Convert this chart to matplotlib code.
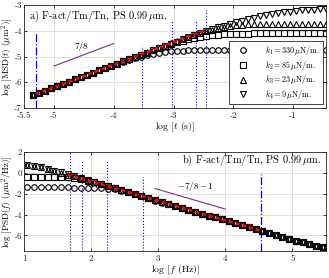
import matplotlib
matplotlib.use("Agg")
import matplotlib.pyplot as plt

plt.rcParams["font.family"] = "serif"
plt.rcParams["font.serif"] = ["cmr10"]
plt.rcParams["mathtext.fontset"] = "cm"
plt.rcParams["axes.formatter.use_mathtext"] = True
plt.rcParams["axes.unicode_minus"] = False

#%% data

# a) MSD, log t (s) vs log MSD (um^2)
log_t = [-5.35, -5.25, -5.15, -5.05, -4.95, -4.85, -4.75, -4.65, -4.55, -4.45,
         -4.35, -4.25, -4.15, -4.05, -3.95, -3.85, -3.75, -3.65, -3.55, -3.45,
         -3.35, -3.25, -3.15, -3.05, -2.95, -2.85, -2.75, -2.65, -2.55, -2.45,
         -2.35, -2.25, -2.15, -2.05, -1.95, -1.85, -1.75, -1.65, -1.55, -1.45,
         -1.35, -1.25, -1.15, -1.05, -0.95, -0.85, -0.75, -0.65, -0.55, -0.45]
msd_early = [-6.50, -6.41, -6.33, -6.24, -6.15, -6.06, -5.98, -5.89, -5.80, -5.71]
msd_k1 = msd_early + [
    -5.63, -5.54, -5.46, -5.37, -5.29, -5.21, -5.14, -5.07, -5.00, -4.94,
    -4.90, -4.86, -4.82, -4.80, -4.78, -4.77, -4.76, -4.75, -4.75, -4.745,
    -4.745, -4.745, -4.74, -4.74, -4.74, -4.74, -4.74, -4.74, -4.74, -4.74,
    -4.74, -4.74, -4.74, -4.74, -4.74, -4.74, -4.74, -4.74, -4.74, -4.74]
msd_k2 = msd_early + [
    -5.63, -5.54, -5.45, -5.36, -5.28, -5.19, -5.10, -5.015, -4.93, -4.845,
    -4.76, -4.68, -4.60, -4.52, -4.45, -4.38, -4.32, -4.27, -4.23, -4.19,
    -4.17, -4.15, -4.13, -4.12, -4.115, -4.11, -4.107, -4.10, -4.10, -4.10,
    -4.10, -4.10, -4.10, -4.10, -4.10, -4.10, -4.10, -4.10, -4.10, -4.10]
msd_k3 = msd_early + [
    -5.63, -5.54, -5.45, -5.36, -5.28, -5.19, -5.10, -5.01, -4.93, -4.84,
    -4.75, -4.665, -4.58, -4.49, -4.41, -4.33, -4.245, -4.17, -4.09, -4.02,
    -3.96, -3.91, -3.86, -3.82, -3.795, -3.77, -3.757, -3.745, -3.737, -3.73,
    -3.728, -3.725, -3.72, -3.72, -3.72, -3.72, -3.72, -3.72, -3.72, -3.72]
msd_k4 = msd_early + [
    -5.63, -5.54, -5.45, -5.37, -5.28, -5.19, -5.104, -5.018, -4.931, -4.845,
    -4.760, -4.674, -4.589, -4.505, -4.421, -4.338, -4.256, -4.176, -4.096, -4.018,
    -3.942, -3.869, -3.797, -3.729, -3.664, -3.602, -3.544, -3.490, -3.440, -3.395,
    -3.354, -3.317, -3.285, -3.257, -3.232, -3.210, -3.192, -3.177, -3.164, -3.153]

msd_fit_t = [-5.3, -2.45]
msd_fit_y = [-6.46, -3.96]
slope_a_t = [-5.0, -4.0]
slope_a_y = [-5.37, -4.495]

# vertical markers, top panel: x, ymax
a_dashdot = [(-5.3, -4.1)]
a_dotted = [(-3.53, -4.6), (-3.02, -3.6), (-2.63, -3.6), (-2.45, -3.2)]

labels_k = [r"$k_1 = 330\,\mu$N/m.", r"$k_2 = 85\,\mu$N/m.",
            r"$k_3 = 23\,\mu$N/m.", r"$k_4 = 9\,\mu$N/m."]
markers_k = ["o", "s", "^", "v"]

# b) PSD, log f (Hz) vs log PSD (um^2/Hz)
log_f = [1.05, 1.15, 1.25, 1.35, 1.45, 1.55, 1.65, 1.75, 1.85, 1.95,
         2.05, 2.15, 2.25, 2.35, 2.45, 2.55, 2.65, 2.75, 2.85, 2.95,
         3.05, 3.15, 3.25, 3.35, 3.45, 3.55, 3.65, 3.75, 3.85, 3.95,
         4.05, 4.15, 4.25, 4.35, 4.45, 4.55, 4.65, 4.75, 4.85, 4.95,
         5.05, 5.15, 5.25, 5.35, 5.45]
psd_tail = [-2.21, -2.40, -2.59, -2.78, -2.96, -3.15, -3.34, -3.53, -3.71,
            -3.90, -4.09, -4.28, -4.46, -4.65, -4.84, -5.03, -5.21, -5.40,
            -5.59, -5.78, -5.96, -6.15, -6.33, -6.50, -6.67, -6.84, -7.00, -7.15]
psd_k1 = [-1.40, -1.40, -1.40, -1.40, -1.40, -1.40, -1.40, -1.402, -1.403, -1.41,
          -1.42, -1.45, -1.50, -1.585, -1.71, -1.87, -2.05, -2.23, -2.42, -2.66,
          -2.85, -3.03, -3.20, -3.37, -3.55, -3.73] + psd_tail[9:]
psd_k2 = [-0.351, -0.352, -0.353, -0.356, -0.365, -0.384, -0.423, -0.495, -0.605, -0.75,
          -0.917, -1.095, -1.28, -1.46, -1.65, -1.84, -2.03] + psd_tail[0:]
psd_k3 = [0.72, 0.64, 0.52, 0.38, 0.21, 0.03, -0.155, -0.34, -0.525, -0.71,
          -0.90, -1.09, -1.275, -1.46, -1.65, -1.84, -2.03] + psd_tail[0:]
psd_k4 = [0.78, 0.68, 0.56, 0.40, 0.22, 0.04, -0.15, -0.34, -0.525, -0.71,
          -0.90, -1.09, -1.275, -1.46, -1.65, -1.84, -2.03] + psd_tail[0:]

psd_fit_f = [1.65, 4.52]
psd_fit_y = [-0.15, -5.53]
slope_b_f = [2.95, 4.0]
slope_b_y = [-1.5, -3.47]

b_dashdot = [(4.53, -0.1)]
b_dotted = [(1.68, 2.0), (1.86, 1.2), (2.24, 1.2), (2.78, -0.4)]

#%% figure

fig = plt.figure(figsize=(3.29, 2.78), dpi=100)
ax1 = fig.add_axes([0.073, 0.6115, 0.918, 0.3705])
ax2 = fig.add_axes([0.073, 0.097, 0.918, 0.356])

mk = dict(ls="none", mfc="none", mec="black", ms=4, mew=0.8)
purple = "#7E2F8E"

def style_axes(ax):
    ax.grid(True, color="#dcdcdc", lw=0.6)
    ax.set_axisbelow(True)
    ax.tick_params(direction="in", length=2.5, width=0.6, labelsize=6.5,
                   top=True, right=True, pad=2, colors="#262626")
    ax.tick_params(axis="y", pad=1.5)
    ax.tick_params(axis="x", pad=2.8)
    for s in ax.spines.values():
        s.set_linewidth(0.6)
        s.set_color("#262626")

# top panel
msd_all = [msd_k1, msd_k2, msd_k3, msd_k4]
for x, ymax in a_dashdot:
    ax1.plot([x, x], [-7, ymax], color="blue", ls="-.", lw=0.9)
for x, ymax in a_dotted:
    ax1.plot([x, x], [-7, ymax], color="blue", ls=":", lw=0.8)
for vals, m, lab in zip(msd_all, markers_k, labels_k):
    ax1.plot(log_t, vals, marker=m, label=lab, **mk)
ax1.plot(msd_fit_t, msd_fit_y, color="red", lw=1.8, ls=(0, (1.6, 1.2)))
ax1.plot(slope_a_t, slope_a_y, color=purple, lw=0.8)
ax1.text(-4.55, -4.62, "7/8", fontsize=6.5, ha="center", va="center")
ax1.text(-5.42, -3.45, r"a) F-act/Tm/Tn, PS 0.99$\,\mu$m.", fontsize=7.5,
         ha="left", va="center")

ax1.set_xlim(-5.5, -0.45)
ax1.set_ylim(-7, -3)
ax1.set_xticks([-5.5, -5, -4, -3, -2, -1])
ax1.set_xticklabels(["-5.5", "-5", "-4", "-3", "-2", "-1"])
ax1.set_yticks([-7, -6, -5, -4, -3])
ax1.set_yticklabels(["-7", "-6", "-5", "-4", "-3"])
ax1.set_xlabel(r"log $[t$ (s)]", fontsize=7, labelpad=0.5)
ax1.set_ylabel(r"log [MSD$(t)$ $(\mu$m$^2)$]", fontsize=6.5)
ax1.yaxis.set_label_coords(-0.031, 0.5)
style_axes(ax1)
leg = ax1.legend(loc="lower right", bbox_to_anchor=(0.99, 0.04), borderaxespad=0,
                 fontsize=5.8, frameon=True, fancybox=False, edgecolor="#262626",
                 framealpha=1, handlelength=2.8, handletextpad=1.3,
                 labelspacing=0.2, borderpad=0.35)
leg.get_frame().set_linewidth(0.6)

# bottom panel
psd_all = [psd_k1, psd_k2, psd_k3, psd_k4]
for x, ymax in b_dashdot:
    ax2.plot([x, x], [-7.5, ymax], color="blue", ls="-.", lw=0.9)
for x, ymax in b_dotted:
    ax2.plot([x, x], [-7.5, ymax], color="blue", ls=":", lw=0.8)
for vals, m in zip(psd_all, markers_k):
    ax2.plot(log_f, vals, marker=m, **mk)
ax2.plot(psd_fit_f, psd_fit_y, color="red", lw=1.8, ls=(0, (1.6, 1.2)))
ax2.plot(slope_b_f, slope_b_y, color=purple, lw=0.8)
ax2.text(3.55, -1.3, r"$-7/8-1$", fontsize=6.5, ha="center", va="center")
ax2.text(5.42, 1.15, r"b) F-act/Tm/Tn, PS 0.99$\,\mu$m.", fontsize=7.5,
         ha="right", va="center")

ax2.set_xlim(1, 5.5)
ax2.set_ylim(-7.5, 2)
ax2.set_xticks([1, 2, 3, 4, 5])
ax2.set_xticklabels(["1", "2", "3", "4", "5"])
ax2.set_yticks([-6, -4, -2, 0, 2])
ax2.set_yticklabels(["-6", "-4", "-2", "0", "2"])
ax2.set_xlabel(r"log $[f$ (Hz)]", fontsize=7, labelpad=0.5)
ax2.set_ylabel(r"log [PSD$(f)$ $(\mu$m$^2$/Hz)]", fontsize=6.5)
ax2.yaxis.set_label_coords(-0.031, 0.5)
style_axes(ax2)

fig.savefig("out.png", dpi=100)
